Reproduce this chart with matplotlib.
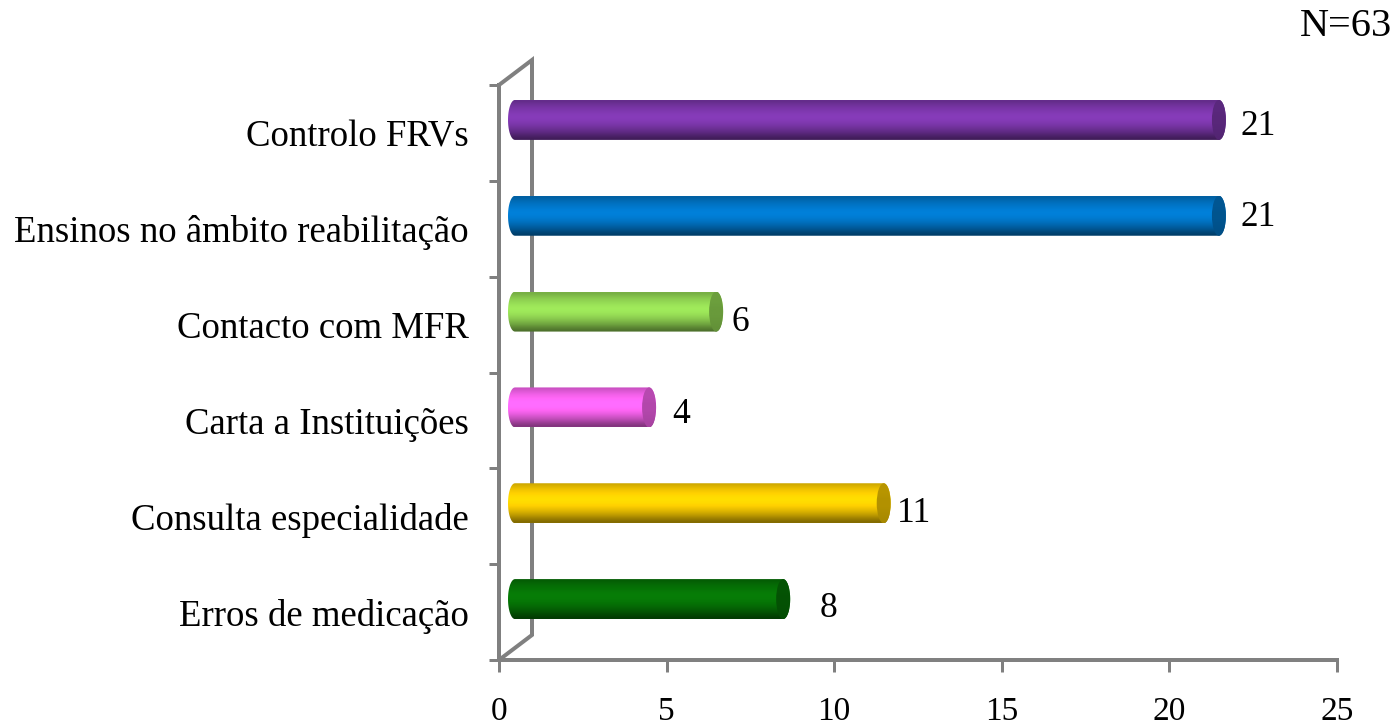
import numpy as np
import matplotlib
matplotlib.use("Agg")
import matplotlib.pyplot as plt
from matplotlib.path import Path
from matplotlib.patches import PathPatch, Ellipse
from matplotlib.colors import to_rgb

categories = ["Erros de medicação", "Consulta especialidade", "Carta a Instituições",
              "Contacto com MFR", "Ensinos no âmbito reabilitação", "Controlo FRVs"]
values = [8, 11, 4, 6, 21, 21]
colors = ["#067506", "#FFD000", "#FF66F5", "#96DC55", "#0078CC", "#7E38AE"]
xticks = [0, 5, 10, 15, 20, 25]

# hand placed value labels, pixels from bar value / category centre
label_dx = [61, 46, 48, 40, 55, 55]
label_dy = [4, 3, 6, 2, 11, 6]

W, H = 1397, 725
LEFT, RIGHT, TOP, BOTTOM = 499, 1337, 85, 660
GRAY = "#808080"
px = 72 / 100

plt.rcParams["font.family"] = ["Liberation Serif", "DejaVu Serif"]
fig = plt.figure(figsize=(W / 100, H / 100), dpi=100)
ax = fig.add_axes([LEFT / W, 1 - BOTTOM / H, (RIGHT - LEFT) / W, (BOTTOM - TOP) / H])
ax.patch.set_alpha(0)

n = len(categories)
ux = (RIGHT - LEFT) / 25      # pixels per x unit
uy = (BOTTOM - TOP) / n       # pixels per category

# back wall, sits behind the bars
wall_x, wall_y = 33 / ux, 25 / uy
ax.plot([0, wall_x, wall_x, 0], [0, wall_y, n + wall_y, n], color=GRAY, lw=4 * px,
        clip_on=False, zorder=1, solid_joinstyle="miter")

# vertical shading of the cylinder
shade = np.array([0.80, 0.88, 0.95, 1.00, 1.05, 1.07, 1.05, 1.00, 0.93, 0.84, 0.74, 0.62, 0.52])
cap_shade = np.array([0.72, 0.72, 0.70, 0.70, 0.68, 0.66])


def bar_image(color, levels, extent, clip):
    rgb = np.array(to_rgb(color))
    img = np.clip(rgb[None, None, :] * levels[:, None, None], 0, 1)
    im = ax.imshow(img, extent=extent, origin="upper", aspect="auto", interpolation="bilinear",
                   zorder=3)
    im.set_clip_path(clip)


off_x, off_y = 16 / ux, 13 / uy
half_h = 20 / uy
cap_w = 7 / ux
t = np.linspace(np.pi / 2, 3 * np.pi / 2, 30)

for i, (value, color) in enumerate(zip(values, colors)):
    y0 = i + 0.5 + off_y
    x0 = off_x
    x1 = value + off_x
    left = np.column_stack([x0 + cap_w * np.cos(t), y0 + half_h * np.sin(t)])
    right = np.column_stack([x1 + cap_w * np.cos(t - np.pi), y0 + half_h * np.sin(t - np.pi)])
    verts = np.vstack([left, right, left[:1]])
    body = PathPatch(Path(verts), fc="none", ec="none", zorder=2)
    ax.add_patch(body)
    extent = (x0 - cap_w, x1 + cap_w, y0 - half_h, y0 + half_h)
    bar_image(color, shade, extent, body)

    cap = Ellipse((x1, y0), 2 * cap_w, 2 * half_h, fc="none", ec="none", zorder=2)
    ax.add_patch(cap)
    bar_image(color, cap_shade, extent, cap)

    ax.annotate(str(value), (value, i + 0.5), xytext=(label_dx[i] * px, label_dy[i] * px),
                textcoords="offset points", ha="center", va="center", fontsize=25.5,
                color="black", zorder=5)

ax.set_xlim(0, 25)
ax.set_ylim(0, n)
ax.set_xticks(xticks)
ax.set_xticklabels([str(v) for v in xticks], fontsize=24)
ax.set_yticks(np.arange(n + 1))
ax.set_yticklabels([])
ax.set_yticks(np.arange(n) + 0.5, minor=True)
ax.set_yticklabels(categories, minor=True, fontsize=26.5)

ax.tick_params(axis="x", which="major", length=12 * px, width=3 * px, color=GRAY, pad=24 * px)
ax.tick_params(axis="y", which="major", length=10 * px, width=3 * px, color=GRAY)
ax.tick_params(axis="y", which="minor", length=0, pad=30 * px)

for side in ["top", "right"]:
    ax.spines[side].set_visible(False)
for side in ["left", "bottom"]:
    ax.spines[side].set_color(GRAY)
    ax.spines[side].set_linewidth(4 * px)
    ax.spines[side].set_zorder(2)

fig.text(1392 / W, 1 - 26 / H, "N=63", ha="right", va="center", fontsize=29)

fig.savefig("out.png", dpi=100)
